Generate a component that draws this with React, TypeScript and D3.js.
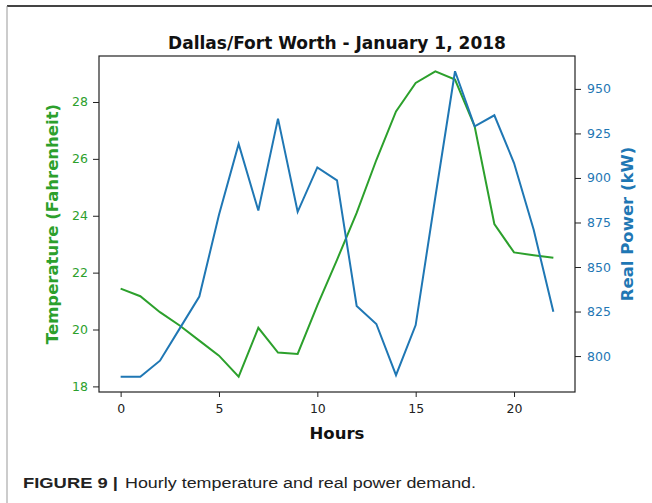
import React, { useRef, useEffect } from 'react';
import * as d3 from 'd3';

const hours = [0, 1, 2, 3, 4, 5, 6, 7, 8, 9, 10, 11, 12, 13, 14, 15, 16, 17, 18, 19, 20, 21, 22];
const temperature = [21.44, 21.17, 20.61, 20.14, 19.61, 19.08, 18.34, 20.06, 19.19, 19.14, 20.85, 22.45, 24.1, 25.96, 27.67, 28.67, 29.08, 28.79, 27.14, 23.71, 22.71, 22.61, 22.52];
const power = [788.4, 788.4, 797.4, 815.4, 833.4, 879.3, 919.1, 881.7, 933.3, 881, 905.9, 898.6, 828.1, 818, 789.3, 817.4, 889.3, 959.9, 929, 935.2, 908.4, 870.9, 824.9];

const hourTicks = [0, 5, 10, 15, 20];
const tempTicks = [18, 20, 22, 24, 26, 28];
const powerTicks = [800, 825, 850, 875, 900, 925, 950];

const GREEN = '#2ca02c';
const BLUE = '#1f77b4';

// matplotlib-style 5% margins around the data range
function padded(values: number[]): [number, number] {
  const [lo, hi] = d3.extent(values) as [number, number];
  const m = (hi - lo) * 0.05;
  return [lo - m, hi + m];
}

function App() {
  const ref = useRef<SVGSVGElement>(null);

  useEffect(() => {
    const svg = d3.select(ref.current);
    svg.selectAll('*').remove();

    const width = 652, height = 503;
    const left = 99, right = 575, top = 56, bottom = 392;
    const font = 'DejaVu Sans, sans-serif';

    svg.attr('width', width).attr('height', height);

    svg.append('rect').attr('width', width).attr('height', height).attr('fill', '#fff');

    // page frame
    svg.append('line').attr('x1', 7).attr('x2', width).attr('y1', 6).attr('y2', 6)
      .attr('stroke', '#444').attr('stroke-width', 2);
    svg.append('line').attr('x1', 7).attr('x2', 7).attr('y1', 6).attr('y2', height)
      .attr('stroke', '#999').attr('stroke-width', 1);

    const x = d3.scaleLinear().domain(padded(hours)).range([left, right]);
    const yT = d3.scaleLinear().domain(padded(temperature)).range([bottom, top]);
    const yP = d3.scaleLinear().domain(padded(power)).range([bottom, top]);

    const tempLine = d3.line<number>().x((d, i) => x(hours[i])).y((d) => yT(d));
    const powerLine = d3.line<number>().x((d, i) => x(hours[i])).y((d) => yP(d));

    svg.append('path').datum(temperature)
      .attr('fill', 'none').attr('stroke', GREEN).attr('stroke-width', 2)
      .attr('d', tempLine);

    svg.append('path').datum(power)
      .attr('fill', 'none').attr('stroke', BLUE).attr('stroke-width', 2)
      .attr('d', powerLine);

    svg.append('rect')
      .attr('x', left).attr('y', top)
      .attr('width', right - left).attr('height', bottom - top)
      .attr('fill', 'none').attr('stroke', '#222').attr('stroke-width', 1.2);

    const styleAxis = (g: any, color: string) => {
      g.select('.domain').remove();
      g.selectAll('line').attr('stroke', '#222').attr('stroke-width', 1);
      g.selectAll('text').attr('fill', color).attr('font-size', 12.5).attr('font-family', font);
    };

    svg.append('g')
      .attr('transform', `translate(0,${bottom})`)
      .call(d3.axisBottom(x).tickValues(hourTicks).tickSize(5).tickPadding(7))
      .call((g: any) => styleAxis(g, '#222'));

    svg.append('g')
      .attr('transform', `translate(${left},0)`)
      .call(d3.axisLeft(yT).tickValues(tempTicks).tickSize(6).tickPadding(5))
      .call((g: any) => styleAxis(g, GREEN));

    svg.append('g')
      .attr('transform', `translate(${right},0)`)
      .call(d3.axisRight(yP).tickValues(powerTicks).tickSize(6).tickPadding(6))
      .call((g: any) => styleAxis(g, BLUE));

    svg.append('text')
      .attr('x', (left + right) / 2).attr('y', 49)
      .attr('text-anchor', 'middle')
      .attr('font-family', font).attr('font-weight', 'bold').attr('font-size', 17)
      .attr('fill', '#111')
      .text('Dallas/Fort Worth - January 1, 2018');

    svg.append('text')
      .attr('x', (left + right) / 2).attr('y', 439)
      .attr('text-anchor', 'middle')
      .attr('font-family', font).attr('font-weight', 'bold').attr('font-size', 16.5)
      .attr('fill', '#111')
      .text('Hours');

    svg.append('text')
      .attr('transform', `translate(58,${(top + bottom) / 2}) rotate(-90)`)
      .attr('text-anchor', 'middle')
      .attr('font-family', font).attr('font-weight', 'bold').attr('font-size', 16.5)
      .attr('fill', GREEN)
      .text('Temperature (Fahrenheit)');

    svg.append('text')
      .attr('transform', `translate(633,${(top + bottom) / 2}) rotate(-90)`)
      .attr('text-anchor', 'middle')
      .attr('font-family', font).attr('font-weight', 'bold').attr('font-size', 16.5)
      .attr('fill', BLUE)
      .text('Real Power (kW)');

    // caption
    const cap = svg.append('text')
      .attr('x', 23).attr('y', 488)
      .attr('font-family', 'Liberation Sans, Arial, sans-serif').attr('font-size', 15.5)
      .attr('fill', '#222');
    cap.append('tspan').attr('font-weight', 'bold').attr('textLength', 95)
      .attr('lengthAdjust', 'spacingAndGlyphs').text('FIGURE 9 |');
    cap.append('tspan').attr('x', 125).attr('textLength', 351)
      .attr('lengthAdjust', 'spacingAndGlyphs').text('Hourly temperature and real power demand.');
  }, []);

  return <svg ref={ref} style={{ position: 'absolute', left: 0, top: 0 }}></svg>;
}

export default App;
